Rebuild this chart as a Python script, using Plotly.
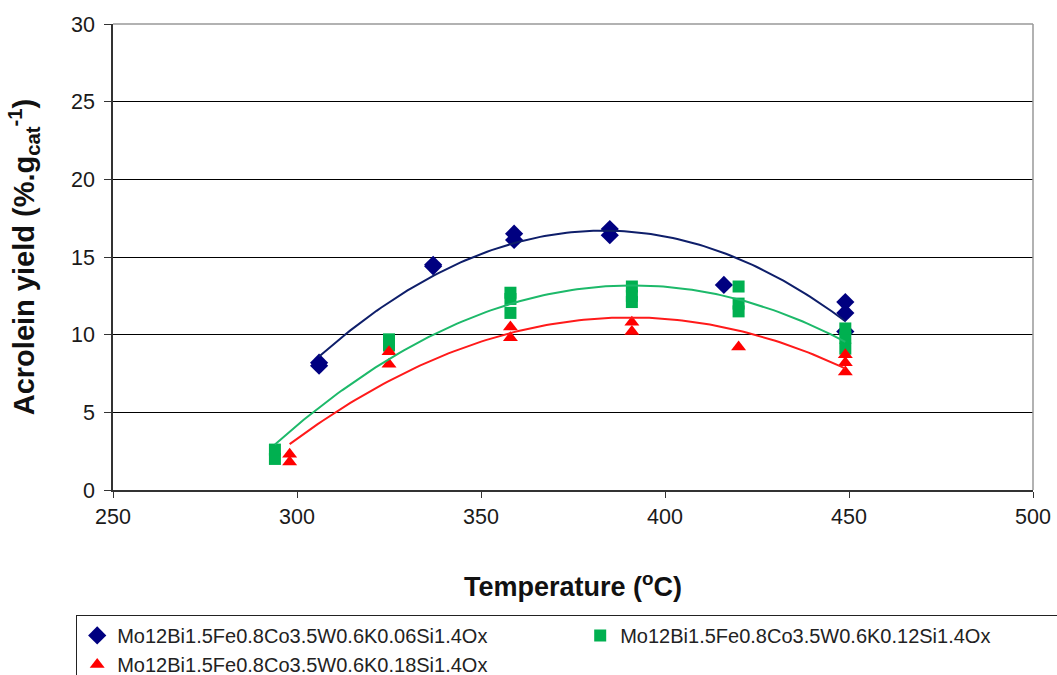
import numpy as np
import plotly.graph_objects as go

# ---- data ----
blue_name = "Mo12Bi1.5Fe0.8Co3.5W0.6K0.06Si1.4Ox"
green_name = "Mo12Bi1.5Fe0.8Co3.5W0.6K0.12Si1.4Ox"
red_name = "Mo12Bi1.5Fe0.8Co3.5W0.6K0.18Si1.4Ox"

blue_T = [306, 306, 337, 337, 359, 359, 385, 385, 416, 449, 449, 449]
blue_Y = [8.0, 8.2, 14.4, 14.5, 16.1, 16.5, 16.4, 16.8, 13.2, 10.2, 11.4, 12.1]

green_T = [294, 294, 325, 325, 358, 358, 358, 391, 391, 391, 420, 420, 420, 449, 449, 449]
green_Y = [2.0, 2.6, 9.3, 9.7, 11.4, 12.3, 12.7, 12.1, 12.5, 13.1, 11.5, 12.0, 13.1, 9.1, 9.8, 10.4]

red_T = [298, 298, 325, 325, 358, 358, 391, 391, 420, 449, 449, 449]
red_Y = [1.8, 2.3, 8.1, 8.9, 9.8, 10.5, 10.2, 10.8, 9.2, 7.6, 8.2, 8.7]

x_ticks = [250, 300, 350, 400, 450, 500]
y_ticks = [0, 5, 10, 15, 20, 25, 30]

FONT = "Liberation Sans, Arial, sans-serif"

series = [
    (blue_name, blue_T, blue_Y, "#000080", "#0E1E6A", "diamond", 14, 1),
    (green_name, green_T, green_Y, "#00B050", "#1DB96A", "square", 12, 2),
    (red_name, red_T, red_Y, "#FF0000", "#FF1A1A", "triangle-up", 13, 3),
]

fig = go.Figure()

# markers in series order (blue, green, red)
for name, T, Y, mc, lc, sym, sz, rank in series:
    fig.add_trace(go.Scatter(
        x=T, y=Y, mode="markers", name=name, legendrank=rank,
        marker=dict(symbol=sym, size=sz, color=mc, line=dict(width=0)),
        cliponaxis=False,
    ))

# 2nd-order polynomial trendlines fitted to each series (as in the original)
for name, T, Y, mc, lc, sym, sz, rank in series:
    coef = np.polyfit(T, Y, 2)
    xs = np.linspace(min(T), max(T), 120)
    fig.add_trace(go.Scatter(
        x=xs, y=np.polyval(coef, xs), mode="lines", showlegend=False,
        line=dict(color=lc, width=2), hoverinfo="skip",
    ))

fig.update_layout(
    width=1057, height=675,
    margin=dict(l=113, r=24, t=24, b=185, autoexpand=False),
    paper_bgcolor="white", plot_bgcolor="white",
    font=dict(family=FONT, color="#1a1a1a", size=18),
    legend=dict(
        orientation="h", x=-0.040, y=-0.268, xanchor="left", yanchor="top",
        bordercolor="#222222", borderwidth=1, bgcolor="white",
        font=dict(family=FONT, size=20, color="#222222"),
        entrywidth=458, entrywidthmode="pixels", traceorder="normal",
        itemwidth=30, tracegroupgap=0,
    ),
    xaxis=dict(
        range=[250, 500], tickvals=x_ticks, ticktext=[str(v) for v in x_ticks],
        showgrid=False, zeroline=False,
        showline=True, linecolor="#333333", linewidth=1.5,
        ticks="outside", ticklen=6, tickcolor="#333333",
        tickfont=dict(size=21.5, family=FONT, color="#1a1a1a"),
        title=dict(text="<b>Temperature (<sup>o</sup>C)</b>", standoff=50,
                   font=dict(size=27, family=FONT, color="#111111")),
        mirror=False,
    ),
    yaxis=dict(
        range=[0, 30], tickvals=y_ticks, ticktext=[str(v) for v in y_ticks],
        showgrid=True, gridcolor="#000000", gridwidth=1, zeroline=False,
        showline=True, linecolor="#333333", linewidth=1.5,
        ticks="outside", ticklen=7, tickcolor="#333333",
        ticklabelstandoff=5,
        tickfont=dict(size=21.5, family=FONT, color="#1a1a1a"),
        title=dict(text="<b>Acrolein yield (%.g<sub>cat</sub><sup>-1</sup>)</b>", standoff=28,
                   font=dict(size=29, family=FONT, color="#111111")),
    ),
    shapes=[
        dict(type="line", xref="paper", yref="paper", x0=0, x1=1, y0=1, y1=1,
             line=dict(color="#999999", width=1.5)),
        dict(type="line", xref="paper", yref="paper", x0=1, x1=1, y0=0, y1=1,
             line=dict(color="#999999", width=1.5)),
    ],
)

fig.write_html("out.html")
